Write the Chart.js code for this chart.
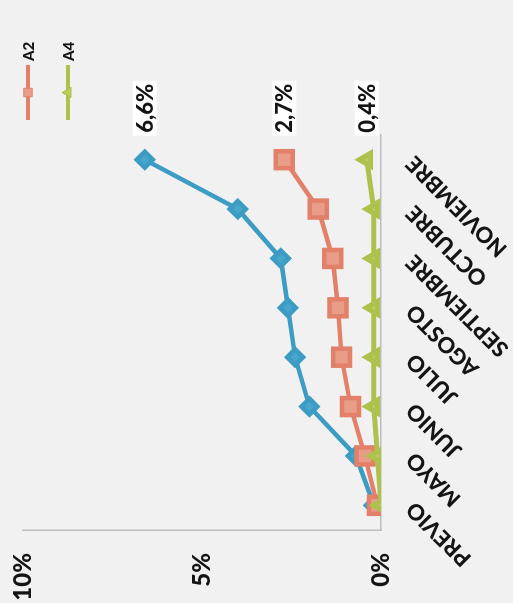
<!DOCTYPE html>
<html>
<head>
<meta charset="utf-8">
<script src="https://cdn.jsdelivr.net/npm/chart.js@4/dist/chart.umd.min.js"></script>
<style>
  html, body { margin: 0; padding: 0; background: #f1f1f1; overflow: hidden; width: 513px; height: 603px; }
  /* the chart is printed sideways: drawn landscape, then turned a quarter turn */
  #wrap {
    position: absolute; left: 0; top: 0;
    width: 603px; height: 513px;
    transform-origin: 0 0;
    transform: translate(0px, 603px) rotate(-90deg);
  }
</style>
</head>
<body>
<div id="wrap"><canvas id="c" width="603" height="513"></canvas></div>
<script>
// Monthly share per group (%)
const categories = ['PREVIO', 'MAYO', 'JUNIO', 'JULIO', 'AGOSTO', 'SEPTIEMBRE', 'OCTUBRE', 'NOVIEMBRE'];
const serieA1 = [0.2, 0.7, 2.0, 2.4, 2.6, 2.8, 4.0, 6.6];
const serieA2 = [0.1, 0.45, 0.85, 1.1, 1.2, 1.35, 1.75, 2.7];
const serieA4 = [0.0, 0.1, 0.2, 0.2, 0.2, 0.2, 0.2, 0.4];
const valueTicks = [0, 5, 10];
const legendNames = ['A2', 'A4'];

const FONT = 'Lato, "DejaVu Sans", sans-serif';
const INK = '#141414';

function pct(v) { return v.toFixed(1).replace('.', ',') + '%'; }

// value label to the right of each series' last point
const endLabels = {
  id: 'endLabels',
  afterDatasetsDraw(chart) {
    const ctx = chart.ctx;
    ctx.save();
    ctx.font = '900 22px ' + FONT;
    ctx.textBaseline = 'middle';
    ctx.textAlign = 'left';
    chart.data.datasets.forEach((ds, i) => {
      const meta = chart.getDatasetMeta(i);
      const pt = meta.data[meta.data.length - 1];
      const txt = pct(ds.data[ds.data.length - 1]);
      const x = pt.x + 27, y = pt.y;
      const w = ctx.measureText(txt).width;
      ctx.fillStyle = '#ffffff';
      ctx.fillRect(x - 3, y - 12, w + 6, 24);
      ctx.fillStyle = INK;
      ctx.fillText(txt, x, y + 1);
    });
    ctx.restore();
  }
};

// line-and-marker legend beside the plot
const sideLegend = {
  id: 'sideLegend',
  afterDraw(chart) {
    const ctx = chart.ctx;
    const area = chart.chartArea;
    const x0 = area.right + 15, len = 55;
    let y = area.top + 5;
    ctx.save();
    chart.data.datasets.forEach((ds) => {
      if (!legendNames.includes(ds.label)) return;
      ctx.strokeStyle = ds.borderColor;
      ctx.lineWidth = 4;
      ctx.beginPath();
      ctx.moveTo(x0, y);
      ctx.lineTo(x0 + len, y);
      ctx.stroke();
      ctx.fillStyle = ds.pointBackgroundColor;
      ctx.strokeStyle = ds.borderColor;
      ctx.lineWidth = 1;
      Chart.helpers.drawPoint(ctx, { pointStyle: ds.pointStyle, radius: 6, borderWidth: 1, rotation: 0 }, x0 + len / 2, y);
      ctx.font = '900 15px ' + FONT;
      ctx.fillStyle = INK;
      ctx.textBaseline = 'middle';
      ctx.textAlign = 'left';
      ctx.fillText(ds.label, x0 + len + 4, y + 1);
      y += 40;
    });
    ctx.restore();
  }
};

new Chart(document.getElementById('c'), {
  type: 'line',
  data: {
    labels: categories,
    datasets: [
      { label: 'A1', data: serieA1, borderColor: '#3c9cc4', backgroundColor: '#3c9cc4',
        pointBackgroundColor: '#46a6cc', pointBorderColor: '#3c9cc4',
        borderWidth: 4.5, pointStyle: 'rectRot', pointRadius: 8, order: 2 },
      { label: 'A2', data: serieA2, borderColor: '#e2806a', backgroundColor: '#e2806a',
        pointBackgroundColor: '#e99d88', pointBorderColor: '#e2806a',
        borderWidth: 4.5, pointStyle: 'rect', pointRadius: 12, order: 1 },
      { label: 'A4', data: serieA4, borderColor: '#adc24c', backgroundColor: '#adc24c',
        pointBackgroundColor: '#b9cc5c', pointBorderColor: '#adc24c',
        borderWidth: 5, pointStyle: 'triangle', pointRadius: 7.5, order: 0 }
    ]
  },
  options: {
    responsive: false,
    animation: false,
    devicePixelRatio: 1,
    layout: { padding: { left: 0, top: 23, right: 135, bottom: 0 } },
    plugins: { legend: { display: false }, tooltip: { enabled: false } },
    scales: {
      x: {
        type: 'category',
        offset: true,
        grid: { display: false, drawTicks: false },
        border: { display: true, color: '#bdbdbd', width: 1.5 },
        ticks: {
          color: INK, font: { family: FONT, size: 22, weight: '900' },
          minRotation: 45, maxRotation: 45, autoSkip: false, padding: 20
        },
        afterFit(s) { s.height = 132; s.paddingTop = 0; }
      },
      y: {
        min: 0, max: 10,
        afterBuildTicks(s) { s.ticks = valueTicks.map(v => ({ value: v })); },
        grid: { display: false, drawTicks: false },
        border: { display: true, color: '#bdbdbd', width: 1.5 },
        ticks: {
          color: INK, font: { family: FONT, size: 24, weight: '900' },
          padding: 23,
          callback: (v) => v + '%'
        },
        afterFit(s) { s.width = 73; s.paddingTop = 0; s.paddingBottom = 0; }
      }
    }
  },
  plugins: [endLabels, sideLegend]
});
</script>
</body>
</html>
